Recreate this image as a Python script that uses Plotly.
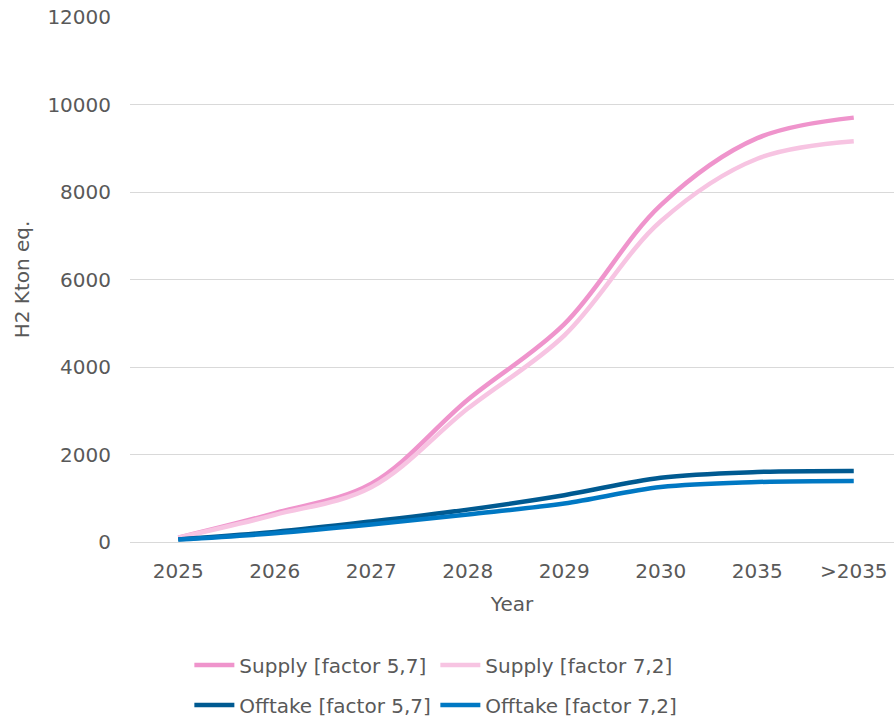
import plotly.graph_objects as go

years = ["2025", "2026", "2027", "2028", "2029", "2030", "2035", ">2035"]
supply_57 = [100, 660, 1330, 3250, 4980, 7700, 9230, 9700]
supply_72 = [100, 620, 1250, 3050, 4720, 7330, 8760, 9160]
offtake_57 = [60, 230, 470, 740, 1070, 1470, 1600, 1625]
offtake_72 = [55, 200, 400, 630, 880, 1255, 1370, 1395]

names = ["Supply [factor 5,7]", "Supply [factor 7,2]",
         "Offtake [factor 5,7]", "Offtake [factor 7,2]"]
colors = ["#EF94CC", "#F7C4E2", "#005A91", "#0078C3"]
series = [supply_57, supply_72, offtake_57, offtake_72]
legends = ["legend", "legend", "legend2", "legend2"]

FONT = "DejaVu Sans"
TXT = "#595959"

fig = go.Figure()
for nm, col, vals, lg in zip(names, colors, series, legends):
    fig.add_trace(go.Scatter(
        x=years, y=vals, name=nm, mode="lines",
        line=dict(color=col, width=4.5, shape="spline", smoothing=1.0),
        legend=lg,
    ))

legend_common = dict(
    orientation="h", xanchor="left", yanchor="middle",
    font=dict(family=FONT, size=20, color=TXT),
    bgcolor="rgba(0,0,0,0)", entrywidth=191, itemwidth=40,
    tracegroupgap=0,
)

fig.update_layout(
    width=894, height=719,
    margin=dict(l=130, r=0, t=17, b=177, autoexpand=False),
    plot_bgcolor="white", paper_bgcolor="white",
    font=dict(family=FONT, size=20, color=TXT),
    legend=dict(x=0.0777, y=-0.2343, **legend_common),
    legend2=dict(x=0.0777, y=-0.3105, **legend_common),
    xaxis=dict(
        type="category", range=[-0.5, 7.417], automargin=False,
        showgrid=False, showline=False, zeroline=False,
        ticks="", ticklabelstandoff=15, ticklabeloverflow="allow",
        tickfont=dict(family=FONT, size=20, color=TXT),
        title=dict(text="Year", font=dict(family=FONT, size=20, color=TXT), standoff=14),
    ),
    yaxis=dict(
        range=[0, 12000], dtick=2000, tickformat="d", automargin=False,
        showgrid=True, gridcolor="#D9D9D9", gridwidth=1.3,
        zeroline=True, zerolinecolor="#D9D9D9", zerolinewidth=1.3,
        showline=False, ticks="", ticklabelstandoff=18, ticklabeloverflow="allow",
        tickfont=dict(family=FONT, size=20, color=TXT),
        title=dict(text="H2 Kton eq.", font=dict(family=FONT, size=20, color=TXT), standoff=12),
    ),
)

fig.write_html(
    "out.html",
    config={"displayModeBar": False},
    post_script="document.body.style.margin='0';document.body.style.overflow='hidden';",
)
